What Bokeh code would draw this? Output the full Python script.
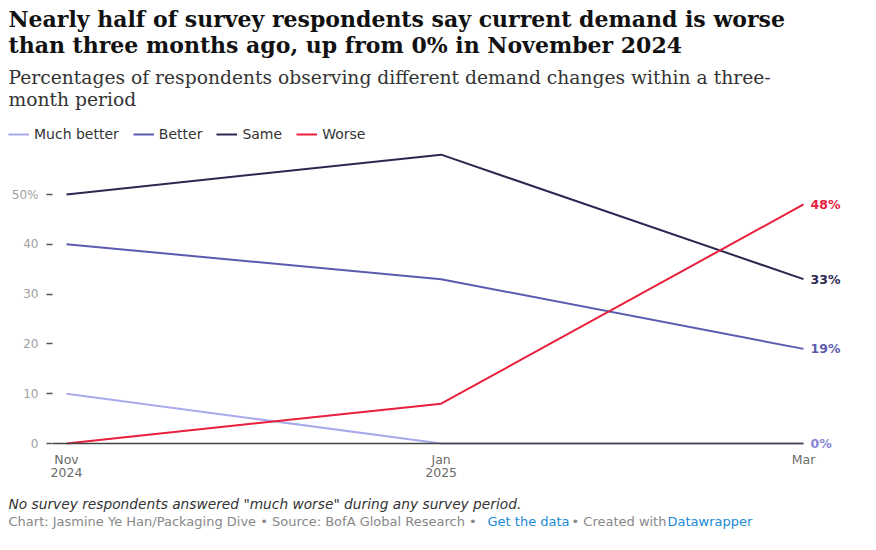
import pandas as pd
from bokeh.plotting import figure
from bokeh.layouts import column
from bokeh.models import Range1d, FixedTicker, Label, Legend, LegendItem
from bokeh.embed import file_html
from bokeh.resources import INLINE
from bokeh.core.properties import value

# ---------------- data ----------------
dates = ["2024-11-01", "2025-01-01", "2025-03-01"]
date_labels = ["Nov\n2024", "Jan\n2025", "Mar"]
series_names = ["Much better", "Better", "Same", "Worse"]
much_better = [10, 0, 0]
better = [40, 33, 19]
same = [50, 58, 33]
worse = [0, 8, 48]
y_ticks = [0, 10, 20, 30, 40, 50]
y_tick_labels = ["0", "10", "20", "30", "40", "50%"]

line_colors = ["#a9a9ec", "#5b5bb0", "#2a2952", "#e8203c"]
end_label_colors = ["#8585d6", "#5b5bb0", "#2a2952", "#e8203c"]

title_lines = ["Nearly half of survey respondents say current demand is worse",
               "than three months ago, up from 0% in November 2024"]
subtitle_lines = ["Percentages of respondents observing different demand changes within a three-",
                  "month period"]
note_text = 'No survey respondents answered "much worse" during any survey period.'
credit_parts = ["Chart: Jasmine Ye Han/Packaging Dive \u2022 Source: BofA Global Research \u2022",
                "Get the data", "\u2022 Created with", "Datawrapper"]

SANS = "DejaVu Sans"
SERIF = "DejaVu Serif"

# ---------------- layout (page pixels) ----------------
W = 876
HEAD_H = 148            # header: title, subtitle, legend
MAIN_BOTTOM = 490       # main chart ends here
H_TOTAL = 550
F_LEFT, F_RIGHT, F_BOTTOM = 52, 850, 450
X_FIRST, X_LAST = 66, 803
Y_ZERO, PPU = 443, 4.98

t = [pd.Timestamp(d).value // 10**6 for d in dates]
mspx = (t[-1] - t[0]) / (X_LAST - X_FIRST)
x_start = t[0] - (X_FIRST - F_LEFT) * mspx
x_end = t[-1] + (F_RIGHT - X_LAST) * mspx
y_start = -(F_BOTTOM - Y_ZERO) / PPU
y_end = (Y_ZERO - HEAD_H) / PPU


def blank(h, y_top):
    f = figure(width=W, height=h, output_backend="svg", toolbar_location=None,
               x_axis_type=None, y_axis_type=None,
               x_range=Range1d(0, W), y_range=Range1d(y_top + h, y_top),
               min_border=0)
    f.outline_line_color = None
    f.grid.visible = False
    f.background_fill_color = "white"
    f.border_fill_color = "white"
    try:
        f.frame_align = False
    except Exception:
        pass
    return f


series = [much_better, better, same, worse]

# ---------------- header ----------------
head = blank(HEAD_H, 0)
for txt, yy in zip(title_lines, [18, 44]):
    head.add_layout(Label(x=8, y=yy, text=txt, text_baseline="middle",
                          text_font=SERIF, text_font_style="bold",
                          text_font_size="22px", text_color="#111111"))
for txt, yy in zip(subtitle_lines, [77, 99]):
    head.add_layout(Label(x=8, y=yy, text=txt, text_baseline="middle",
                          text_font=SERIF, text_font_size="18.7px",
                          text_color="#333333"))
# legend renderers: the series themselves (they fall outside this header's pixel ranges)
legend_renderers = [head.line(t, vals, line_color=c, line_width=2)
                    for vals, c in zip(series, line_colors)]
legend = Legend(items=[LegendItem(label=n, renderers=[r]) for n, r in zip(series_names, legend_renderers)],
                orientation="horizontal", location=(8, HEAD_H - 144),
                padding=0, margin=0, spacing=14, label_standoff=5,
                glyph_width=21, glyph_height=20, label_height=20,
                label_text_font=SANS, label_text_font_size="14px",
                label_text_color="#333333",
                background_fill_alpha=0, border_line_color=None)
head.add_layout(legend)

# ---------------- main chart ----------------
p = figure(width=W, height=MAIN_BOTTOM - HEAD_H, output_backend="svg", toolbar_location=None,
           x_axis_type="datetime",
           x_range=Range1d(x_start, x_end), y_range=Range1d(y_start, y_end),
           min_border_left=F_LEFT, min_border_right=W - F_RIGHT,
           min_border_top=0, min_border_bottom=MAIN_BOTTOM - F_BOTTOM)
p.outline_line_color = None
p.grid.visible = False
p.background_fill_color = "white"
p.border_fill_color = "white"
try:
    p.frame_align = False
except Exception:
    pass

p.yaxis.ticker = FixedTicker(ticks=y_ticks)
p.yaxis.major_label_overrides = {v: s for v, s in zip(y_ticks, y_tick_labels)}
p.yaxis.axis_line_color = None
p.yaxis.major_tick_out = 6
p.yaxis.major_tick_in = 0
p.yaxis.major_tick_line_color = "#555555"
p.yaxis.major_tick_line_width = 1.5
p.yaxis.minor_tick_line_color = None
p.yaxis.major_label_standoff = 8
p.yaxis.major_label_text_font = SANS
p.yaxis.major_label_text_font_size = "12px"
p.yaxis.major_label_text_color = "#a0a0a0"

p.xaxis.ticker = FixedTicker(ticks=t)
p.xaxis.major_label_overrides = {v: s for v, s in zip(t, date_labels)}
p.xaxis.axis_line_color = None
p.xaxis.major_tick_line_color = None
p.xaxis.minor_tick_line_color = None
p.xaxis.major_tick_out = 0
p.xaxis.major_tick_in = 0
p.xaxis.major_label_standoff = 1
p.xaxis.major_label_text_font = SANS
p.xaxis.major_label_text_font_size = "12.5px"
p.xaxis.major_label_text_color = "#6a6a6a"
p.xaxis.major_label_text_line_height = 0.9

for name, vals, col in zip(series_names, series, line_colors):
    p.line(t, vals, line_color=col, line_width=2)

# baseline at zero
p.segment(x0=[x_start], y0=[0], x1=[t[-1]], y1=[0], line_color="#444444", line_width=1.5)

shown = []
for vals, col in zip(series, end_label_colors):
    if vals[-1] in shown:
        continue
    shown.append(vals[-1])
    p.text(x=[t[-1]], y=[vals[-1]], text=[f"{vals[-1]}%"], x_offset=7,
           text_baseline="middle", text_align="left",
           text_font=value(SANS), text_font_style="bold",
           text_font_size="12.5px", text_color=col)

# ---------------- footer ----------------
foot = blank(H_TOTAL - MAIN_BOTTOM, MAIN_BOTTOM)
foot.add_layout(Label(x=8, y=503, text=note_text, text_baseline="middle",
                      text_font=SANS, text_font_style="italic",
                      text_font_size="13.75px", text_color="#333333"))
credit_x = [8, 487, 571, 667]
credit_colors = ["#888888", "#1a8ad4", "#888888", "#1a8ad4"]
for txt, xx, col in zip(credit_parts, credit_x, credit_colors):
    foot.add_layout(Label(x=xx, y=521, text=txt, text_baseline="middle",
                          text_font=SANS, text_font_size="13px", text_color=col))

layout = column(head, p, foot, spacing=0)
open("out.html", "w").write(file_html(layout, INLINE))
